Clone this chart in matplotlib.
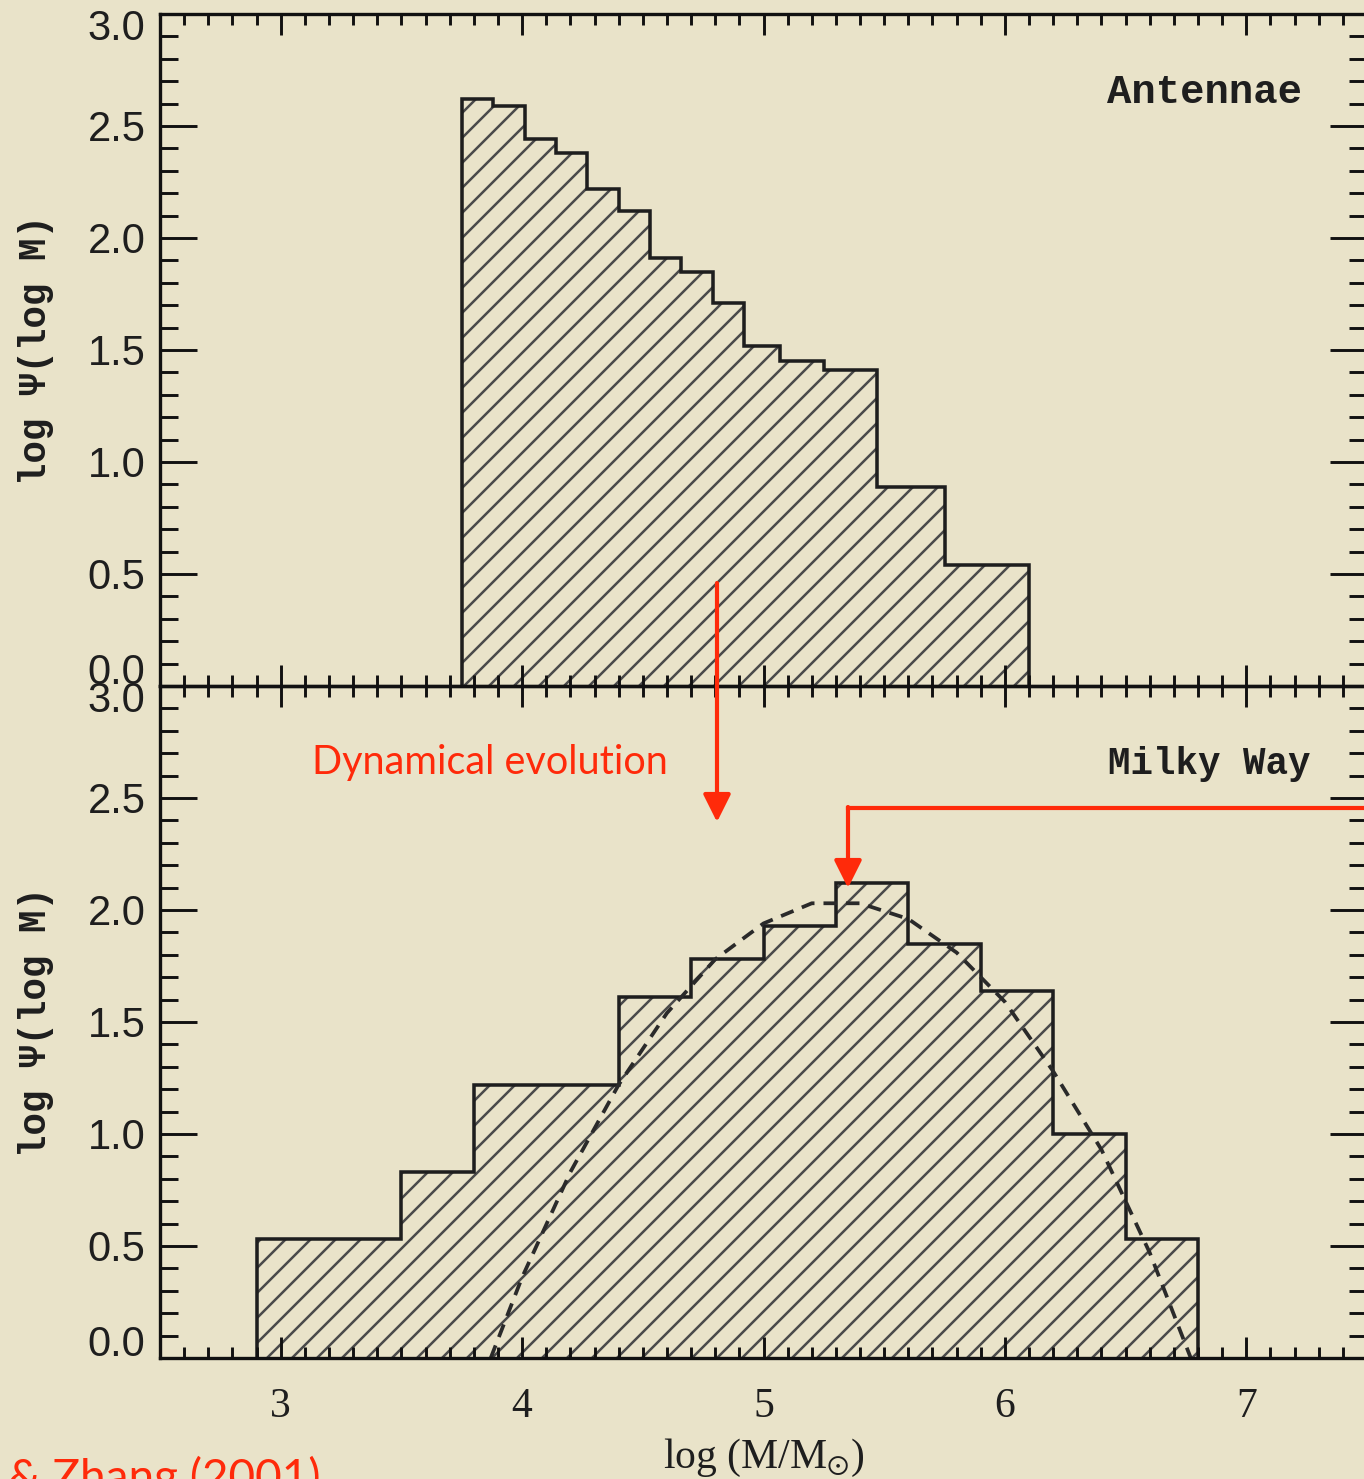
import matplotlib.pyplot as plt
import matplotlib.transforms as mtransforms
from matplotlib.ticker import MultipleLocator
from matplotlib.lines import Line2D

# Antennae cluster mass function (top panel): bin edges in log M, log Psi per bin
ant_edges = [3.75, 3.88, 4.01, 4.14, 4.27, 4.40, 4.53, 4.66, 4.79, 4.92, 5.07, 5.25, 5.47, 5.75, 6.10]
ant_logpsi = [2.62, 2.59, 2.44, 2.38, 2.22, 2.12, 1.91, 1.85, 1.71, 1.52, 1.45, 1.41, 0.89, 0.54]

# Milky Way globular clusters (bottom panel)
mw_edges = [2.9, 3.5, 3.8, 4.4, 4.7, 5.0, 5.3, 5.6, 5.9, 6.2, 6.5, 6.8]
mw_logpsi = [0.53, 0.83, 1.22, 1.61, 1.78, 1.93, 2.12, 1.85, 1.64, 1.00, 0.53]

# dashed model curve
fit_logm = [3.87, 4.0, 4.2, 4.4, 4.6, 4.8, 5.0, 5.2, 5.4, 5.6, 5.8, 6.0, 6.2, 6.4, 6.6, 6.77]
fit_logpsi = [0.0, 0.36, 0.83, 1.22, 1.54, 1.78, 1.94, 2.03, 2.03, 1.96, 1.81, 1.59, 1.28, 0.93, 0.47, 0.0]

ytick_vals = [0.0, 0.5, 1.0, 1.5, 2.0, 2.5, 3.0]
xtick_vals = [3, 4, 5, 6, 7]

W, H, DPI = 1364, 1479, 150
BG = '#E9E3C9'
RED = '#FF2A0A'
INK = '#1E1E1E'
plt.rcParams['hatch.linewidth'] = 1.2
plt.rcParams['mathtext.fontset'] = 'stix'

fig = plt.figure(figsize=(W / DPI, H / DPI), dpi=DPI, facecolor=BG)


def fx(px):
    return px / W


def fy(py):
    return 1 - py / H


left, width = fx(160), 1207 / W
ph = 672 / H
ax1 = fig.add_axes([left, fy(686), width, ph])
ax2 = fig.add_axes([left, fy(1358), width, ph], sharex=ax1)

mono = ['Liberation Mono', 'DejaVu Sans Mono']


def style_panel(ax, name, name_x, name_size):
    ax.set_facecolor('none')
    ax.set_xlim(2.5, 7.5)
    ax.set_ylim(0, 3)
    for s in ax.spines.values():
        s.set_linewidth(1.6)
        s.set_color('#111111')
    ax.xaxis.set_major_locator(MultipleLocator(1))
    ax.xaxis.set_minor_locator(MultipleLocator(0.1))
    ax.set_yticks(ytick_vals)
    ax.yaxis.set_minor_locator(MultipleLocator(0.1))
    ax.tick_params(which='both', direction='in', top=True, right=True,
                   width=1.4, color='#111111')
    ax.tick_params(axis='x', which='major', length=10)
    ax.tick_params(axis='x', which='minor', length=5.3)
    ax.tick_params(axis='y', which='major', length=17.8)
    ax.tick_params(axis='y', which='minor', length=8.6)
    ax.set_yticklabels([])
    # y tick labels drawn by hand so the end labels can be nudged like the original
    for v in ytick_vals:
        dy = -2
        if v == 0.0:
            dy = 6
        elif v == 3.0:
            dy = -7
        tr = ax.get_yaxis_transform() + mtransforms.ScaledTranslation(-7 / 72, dy / 72, fig.dpi_scale_trans)
        ax.text(0, v, '%.1f' % v, transform=tr, ha='right', va='center',
                fontsize=20, family='Liberation Sans', color=INK)
    ax.set_ylabel('log Ψ(log M)', family=mono, fontweight='bold', fontsize=18, color=INK)
    ax.yaxis.set_label_coords(-0.088, 0.5)
    ax.text(name_x, 0.884, name, transform=ax.transAxes, ha='right', va='center',
            family=mono, fontweight='bold', fontsize=name_size, color=INK)


style_panel(ax1, 'Antennae', 0.946, 19.5)
style_panel(ax2, 'Milky Way', 0.953, 18)

# histograms: hatched fill + dark outline
ax1.stairs(ant_logpsi, ant_edges, baseline=0, fill=True, hatch='//',
           facecolor='none', edgecolor='#4A4A4A', linewidth=0)
ax1.stairs(ant_logpsi, ant_edges, baseline=0, color=INK, linewidth=1.7)

ax2.stairs(mw_logpsi, mw_edges, baseline=0, fill=True, hatch='//',
           facecolor='none', edgecolor='#4A4A4A', linewidth=0)
ax2.stairs(mw_logpsi, mw_edges, baseline=0, color=INK, linewidth=1.7)
ax2.plot(fit_logm, fit_logpsi, color='#2A2A2A', lw=1.8, ls=(0, (3.6, 2.4)))

plt.setp(ax1.get_xticklabels(), visible=False)
ax2.set_xticks(xtick_vals)
ax2.set_xticklabels([str(v) for v in xtick_vals], family='Liberation Serif', fontsize=20, color=INK)
ax2.tick_params(axis='x', which='major', pad=14)
ax2.set_xlabel(r'log (M/M$_{\odot}$)', family='Liberation Serif', fontsize=20, color=INK, va='top')
ax2.xaxis.set_label_coords(0.5, -0.118)

# red annotations on the slide
fig.text(fx(312), fy(763), 'Dynamical evolution', color=RED, fontsize=19,
         family='Lato', ha='left', va='center')
fig.text(fx(8), fy(1492), '& Zhang (2001)', color=RED, fontsize=22,
         family='Lato', ha='left', va='baseline')

arrow = dict(arrowstyle='-|>', color=RED, lw=2, mutation_scale=28, shrinkA=0, shrinkB=0)
fig.add_artist(Line2D([fx(1370), fx(848)], [fy(808), fy(808)], color=RED, lw=2,
                      transform=fig.transFigure))
ax2.annotate('', xy=(fx(848), fy(888)), xytext=(fx(848), fy(807)),
             xycoords='figure fraction', textcoords='figure fraction', arrowprops=arrow,
             annotation_clip=False)
ax2.annotate('', xy=(fx(717), fy(822)), xytext=(fx(717), fy(583)),
             xycoords='figure fraction', textcoords='figure fraction', arrowprops=arrow,
             annotation_clip=False)

fig.savefig('out.png', dpi=DPI, facecolor=BG)
